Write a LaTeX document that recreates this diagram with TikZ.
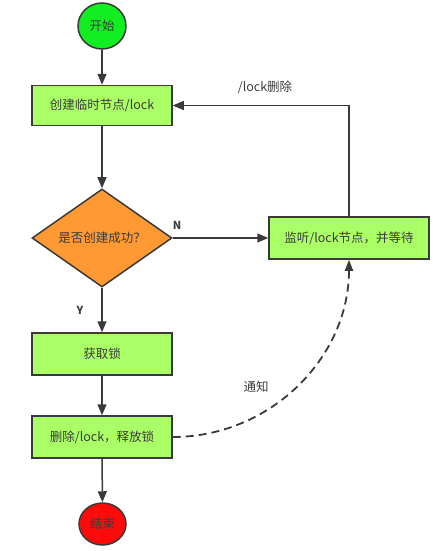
\documentclass[tikz,border=0pt]{standalone}
\usepackage{fontspec}
\setmainfont{Noto Sans CJK SC}
\usetikzlibrary{shapes.geometric,arrows.meta}
\definecolor{startgreen}{HTML}{11EE22}
\definecolor{boxgreen}{HTML}{AAFF66}
\definecolor{decorange}{HTML}{FF9933}
\definecolor{endred}{HTML}{FF0A0A}
\definecolor{edgegray}{HTML}{3A3A3A}
\definecolor{textgray}{HTML}{3C3C3C}
\begin{document}
\begin{tikzpicture}[x=1pt,y=-1pt,
  font=\fontsize{12.5pt}{15pt}\selectfont,
  every node/.style={text=textgray},
  procbox/.style={draw=edgegray,line width=1.5pt,fill=boxgreen,rectangle,
    minimum width=140pt,minimum height=40pt,inner sep=0pt},
  termnode/.style={draw=edgegray,line width=1.5pt,ellipse,inner sep=0pt},
  decnode/.style={draw=edgegray,line width=1.5pt,fill=decorange,diamond,
    aspect=1.43,inner sep=0pt,minimum width=140pt,minimum height=98pt},
  flow/.style={draw=edgegray,line width=1.5pt,-{Triangle[length=11pt,width=9pt]}},
  notify/.style={draw=edgegray,line width=1.8pt,dash pattern=on 8pt off 5pt,
    -{Triangle[length=11pt,width=8pt]}},
  lbl/.style={text=textgray,inner sep=1pt}]
\useasboundingbox (0,0) rectangle (445,551);
\node[termnode,fill=startgreen,minimum width=48pt,minimum height=46pt] (start) at (102,26) {开始};
\node[procbox] (create) at (102,105.5) {创建临时节点/lock};
\node[decnode] (dec) at (102,238) {是否创建成功？};
\node[procbox,minimum width=160pt,minimum height=42pt] (watch) at (349,238) {监听/lock节点，并等待};
\node[procbox,minimum height=42pt] (acquire) at (102,354) {获取锁};
\node[procbox,minimum height=42pt] (release) at (102,437) {删除/lock，释放锁};
\node[termnode,fill=endred,minimum width=47pt,minimum height=42pt] (stop) at (102.5,524) {结束};

\draw[flow] (start) -- (create);
\draw[flow] (create) -- (dec);
\draw[flow] (dec) -- (acquire);
\draw[flow] (acquire) -- (release);
\draw[flow] (release) -- (stop);
\draw[flow] (dec.east) -- (watch.west);
\draw[flow] (watch.north) |- (create.east);
\draw[notify] (release.east) .. controls (270,437) and (349,358) .. (watch.south);

\node[lbl] (lockdel) at (265,87) {/lock删除};
\node[lbl,font=\fontsize{11pt}{13pt}\selectfont\bfseries] (nlbl) at (177,225) {N};
\node[lbl,font=\fontsize{11pt}{13pt}\selectfont\bfseries] (ylbl) at (80,310) {Y};
\node[lbl] (tongzhi) at (256,387) {通知};
\end{tikzpicture}
\end{document}
